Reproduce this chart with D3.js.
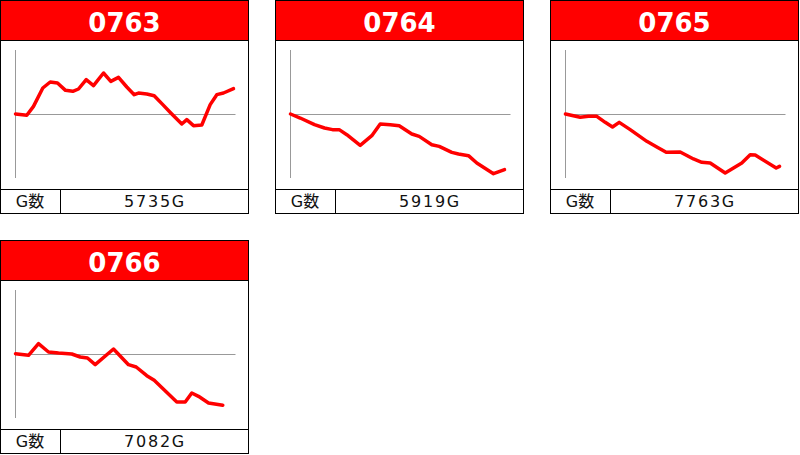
<!DOCTYPE html>
<html>
<head>
<meta charset="utf-8">
<script src="https://cdn.jsdelivr.net/npm/d3@7"></script>
<style>
  body { margin: 0; background: #fff; }
  svg { display: block; font-family: "DejaVu Sans", "Noto Sans CJK JP", sans-serif; }
</style>
</head>
<body>
<div id="chart-area"></div>
<script>
// machine numbers and game counts
var machines = ["0763", "0764", "0765", "0766"];
var games = ["5735G", "5919G", "7763G", "7082G"];

// x = progress along the day (0..220), y = coin difference
var x0763 = [0, 11.3, 18, 27.3, 34.7, 42, 50, 57.3, 63, 70.7, 78, 88, 95.3, 103, 111.3, 118.7, 123, 131.3, 138.7, 147.3, 155.3, 161.3, 166.3, 171.3, 178, 186.3, 194.7, 201.3, 208, 218];
var y0763 = [0, -62, 359, 1219, 1500, 1453, 1109, 1063, 1172, 1609, 1328, 1922, 1531, 1719, 1266, 906, 984, 938, 859, 438, 47, -234, -469, -266, -547, -516, 438, 906, 984, 1188];

var x0764 = [0, 9.7, 24, 34, 42, 48.7, 56.3, 69.7, 81.3, 89.7, 99.7, 108.7, 121.3, 128.7, 141.3, 148.7, 161.3, 168, 178, 186.3, 203, 214];
var y0764 = [0, -188, -500, -656, -734, -734, -969, -1469, -1016, -469, -500, -547, -938, -1047, -1438, -1516, -1797, -1875, -1953, -2297, -2797, -2609];

var x0765 = [0, 14.7, 23, 31.3, 39.7, 47, 53.7, 64.7, 81.3, 91.3, 100.7, 114.7, 128, 136.3, 144.7, 159.7, 176.3, 184.7, 189.7, 210.7, 214];
var y0765 = [0, -156, -109, -109, -391, -609, -391, -734, -1281, -1547, -1797, -1781, -2109, -2266, -2297, -2766, -2297, -1906, -1922, -2531, -2453];

var x0766 = [0, 13, 23, 33, 43, 56.3, 64.7, 72, 79.7, 98, 113, 120.7, 131.3, 138.7, 161.3, 169.7, 176.3, 183, 193, 207.3];
var y0766 = [16, -62, 484, 94, 47, 0, -141, -188, -500, 234, -500, -609, -1016, -1234, -2250, -2250, -1828, -1984, -2297, -2406];

var xs = [x0763, x0764, x0765, x0766];
var ys = [y0763, y0764, y0765, y0766];

var svg = d3.select("#chart-area").append("svg")
    .attr("width", 800)
    .attr("height", 455);

var panelW = 249, panelH = 214;
var origins = [[0, 0], [275, 0], [550, 0], [0, 240]];

var x = d3.scaleLinear().domain([0, 220]).range([15.5, 235.5]);
var y = d3.scaleLinear().domain([-3000, 3000]).range([178, 50]);

var line = d3.line()
    .x(function(d) { return x(d[0]); })
    .y(function(d) { return y(d[1]); });

machines.forEach(function(m, i) {
    var g = svg.append("g")
        .attr("transform", "translate(" + origins[i][0] + "," + origins[i][1] + ")");

    // header
    g.append("rect")
        .attr("x", 0.5).attr("y", 0.5)
        .attr("width", panelW - 1).attr("height", 40)
        .attr("fill", "#ff0000");

    g.append("text")
        .attr("x", panelW / 2)
        .attr("y", 31.5)
        .attr("text-anchor", "middle")
        .attr("font-size", "26px")
        .attr("font-weight", "bold")
        .attr("fill", "#fff")
        .text(m);

    // axes
    g.append("line")
        .attr("x1", x(0)).attr("x2", x(0))
        .attr("y1", y.range()[1]).attr("y2", y.range()[0])
        .attr("stroke", "#999").attr("stroke-width", 1);
    g.append("line")
        .attr("x1", x(0)).attr("x2", x(220))
        .attr("y1", Math.round(y(0)) + 0.5).attr("y2", Math.round(y(0)) + 0.5)
        .attr("stroke", "#999").attr("stroke-width", 1);

    var pts = d3.zip(xs[i], ys[i]);
    g.append("path")
        .datum(pts)
        .attr("d", line)
        .attr("fill", "none")
        .attr("stroke", "#ff0000")
        .attr("stroke-width", 3.5)
        .attr("stroke-linejoin", "round")
        .attr("stroke-linecap", "round");

    // footer
    g.append("line")
        .attr("x1", 0).attr("x2", panelW)
        .attr("y1", 189.5).attr("y2", 189.5)
        .attr("stroke", "#000");
    g.append("line")
        .attr("x1", 60.5).attr("x2", 60.5)
        .attr("y1", 189.5).attr("y2", panelH)
        .attr("stroke", "#000");
    g.append("text")
        .attr("x", 30).attr("y", 206.5)
        .attr("text-anchor", "middle")
        .attr("font-size", "16px")
        .attr("fill", "#111")
        .text("G数");
    g.append("text")
        .attr("x", 155).attr("y", 206.5)
        .attr("text-anchor", "middle")
        .attr("font-size", "16px")
        .attr("letter-spacing", "1.8px")
        .attr("fill", "#111")
        .text(games[i]);

    // header separator and outer border
    g.append("line")
        .attr("x1", 0).attr("x2", panelW)
        .attr("y1", 40.5).attr("y2", 40.5)
        .attr("stroke", "#000");
    g.append("rect")
        .attr("x", 0.5).attr("y", 0.5)
        .attr("width", panelW - 1).attr("height", panelH - 1)
        .attr("fill", "none")
        .attr("stroke", "#000");
});
</script>
</body>
</html>
